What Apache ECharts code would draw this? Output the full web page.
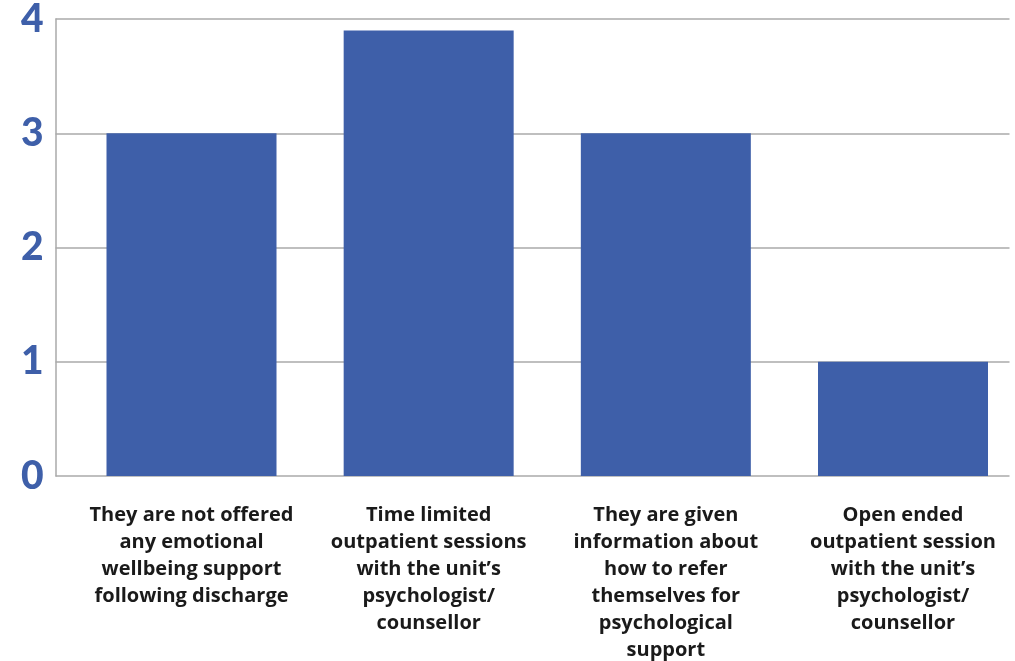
<!DOCTYPE html>
<html>
<head>
<meta charset="utf-8">
<script src="https://cdn.jsdelivr.net/npm/echarts@6/dist/echarts.min.js"></script>
<style>
  html, body { margin: 0; padding: 0; background: #fff; }
  #chart { width: 1015px; height: 661px; }
</style>
</head>
<body>
<div id="chart"></div>
<script>
const categories = [
  'They are not offered\nany emotional\nwellbeing support\nfollowing discharge',
  'Time limited\noutpatient sessions\nwith the unit\u2019s\npsychologist/\ncounsellor',
  'They are given\ninformation about\nhow to refer\nthemselves for\npsychological\nsupport',
  'Open ended\noutpatient session\nwith the unit\u2019s\npsychologist/\ncounsellor'
];
const values = [3, 3.9, 3, 1];
const yTicks = [0, 1, 2, 3, 4];

(function() {
  const chartDom = document.getElementById('chart');
  const chart = echarts.init(chartDom);

  const blue = '#3e5fa9';
  const gridGrey = '#aaaaaa';

  const option = {
    backgroundColor: '#ffffff',
    animation: false,
    grid: [
      // bars + category labels: first/last category sit on the grid edges
      { left: 191.5, width: 711.5, top: 19, bottom: 185, outerBoundsMode: 'none', containLabel: false },
      // value axis + gridlines
      { left: 55.5, right: 5.5, top: 19, bottom: 185, outerBoundsMode: 'none', containLabel: false }
    ],
    xAxis: [
      {
        type: 'category',
        gridIndex: 0,
        data: categories,
        boundaryGap: false,
        axisLine: { show: false },
        axisTick: { show: false },
        axisLabel: {
          color: '#1a1a1a',
          fontFamily: 'Open Sans',
          fontWeight: 'bold',
          fontSize: 20,
          lineHeight: 27,
          margin: 26,
          interval: 0,
          align: 'center'
        }
      },
      {
        type: 'category',
        gridIndex: 1,
        data: categories,
        show: false
      }
    ],
    yAxis: [
      {
        type: 'value',
        gridIndex: 0,
        min: yTicks[0],
        max: yTicks[yTicks.length - 1],
        interval: 1,
        show: false
      },
      {
        type: 'value',
        gridIndex: 1,
        min: yTicks[0],
        max: yTicks[yTicks.length - 1],
        interval: 1,
        axisLine: { show: true, lineStyle: { color: gridGrey, width: 1.5 } },
        axisTick: { show: false },
        axisLabel: {
          color: blue,
          fontFamily: 'Lato',
          fontWeight: 900,
          fontSize: 39,
          margin: 12,
          padding: [8, 0, 0, 0]
        },
        splitLine: { lineStyle: { color: gridGrey, width: 1.5 } }
      }
    ],
    series: [
      {
        type: 'bar',
        xAxisIndex: 0,
        yAxisIndex: 0,
        data: values,
        barWidth: 170,
        z: 3,
        itemStyle: { color: blue }
      }
    ]
  };

  chart.setOption(option);
})();
</script>
</body>
</html>
